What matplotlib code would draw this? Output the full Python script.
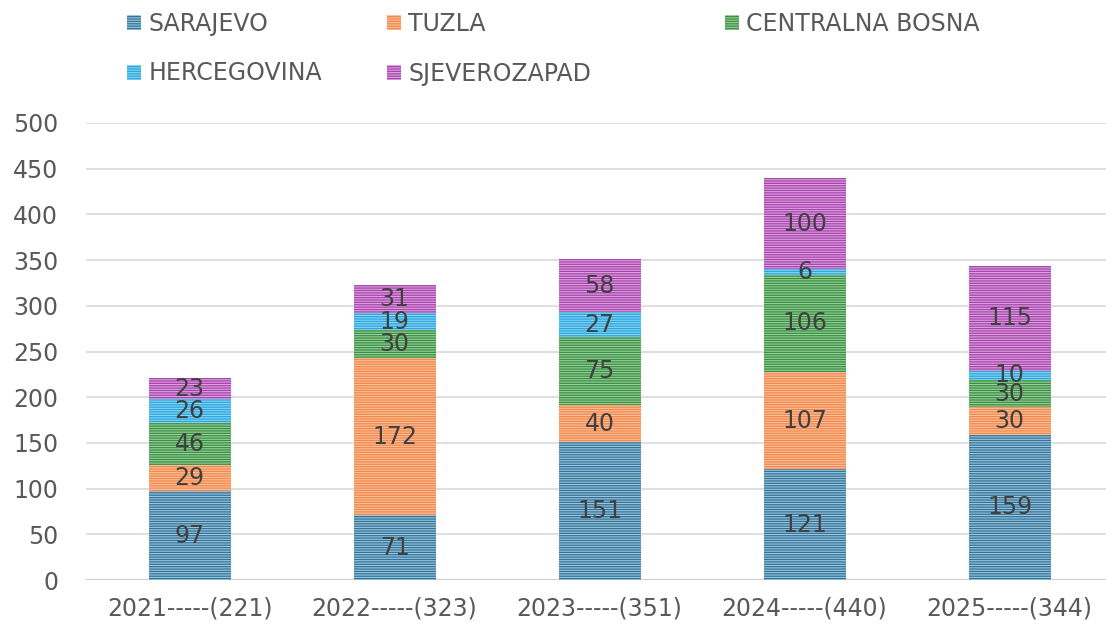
import matplotlib
matplotlib.use("Agg")
import matplotlib.pyplot as plt
import numpy as np

categories = ["2021-----(221)", "2022-----(323)", "2023-----(351)", "2024-----(440)", "2025-----(344)"]
series_names = ["SARAJEVO", "TUZLA", "CENTRALNA BOSNA", "HERCEGOVINA", "SJEVEROZAPAD"]
sarajevo = [97, 71, 151, 121, 159]
tuzla = [29, 172, 40, 107, 30]
centralna_bosna = [46, 30, 75, 106, 30]
hercegovina = [26, 19, 27, 6, 10]
sjeverozapad = [23, 31, 58, 100, 115]
yticks = [0, 50, 100, 150, 200, 250, 300, 350, 400, 450, 500]

face_colors = ["#33739a", "#f2884a", "#3b8d43", "#2aa7df", "#a744ad"]
hatch_colors = ["#9cc7dc", "#fbc09c", "#98d29b", "#8ad3f1", "#dda3df"]

plt.rcParams['font.family'] = ['DejaVu Sans']
plt.rcParams['hatch.linewidth'] = 0.8

FS = 17

fig = plt.figure(figsize=(11.06, 6.28), dpi=100)
ax = fig.add_axes([86/1106, 48/628, 1 - 86/1106, (580-123)/628])

x = np.arange(len(categories))
bottom = np.zeros(len(categories))
handles = []
for name, vals, fc, hc in zip(series_names,
                              [sarajevo, tuzla, centralna_bosna, hercegovina, sjeverozapad],
                              face_colors, hatch_colors):
    vals = np.array(vals, dtype=float)
    bars = ax.bar(x, vals, width=0.4, bottom=bottom, color=fc, edgecolor=hc,
                  linewidth=0, hatch='-------', zorder=3, label=name)
    handles.append(bars)
    for xi, b, v in zip(x, bottom, vals):
        ax.text(xi, b + v / 2, f"{int(v)}", ha='center', va='center',
                fontsize=FS, color='#404040', zorder=5)
    bottom += vals

ax.set_xlim(-0.505, 4.47)
ax.set_ylim(0, 500)
ax.set_yticks(yticks)
ax.set_xticks(x)
ax.set_xticklabels(categories)
ax.tick_params(axis='both', length=0, labelsize=FS, colors='#595959')
ax.tick_params(axis='y', pad=20)
ax.tick_params(axis='x', pad=12)
ax.grid(axis='y', color='#d9d9d9', linewidth=1.2, zorder=0)
for s in ax.spines.values():
    s.set_visible(False)
ax.axhline(0, color='#d0d0d0', linewidth=1.5, zorder=2)

# legend: three columns placed individually (row-major order as in the original)
columns = [([0, 3], 127), ([1, 4], 387), ([2], 725)]
for idxs, xpix in columns:
    fig.legend([handles[i] for i in idxs], [series_names[i] for i in idxs],
               loc='upper left', bbox_to_anchor=(xpix/1106, 1 - 12/628),
               frameon=False, fontsize=FS, handlelength=0.6, handleheight=0.6,
               handletextpad=0.3, labelspacing=1.08, borderpad=0,
               borderaxespad=0, labelcolor='#595959')

fig.savefig("out.png", dpi=100)
